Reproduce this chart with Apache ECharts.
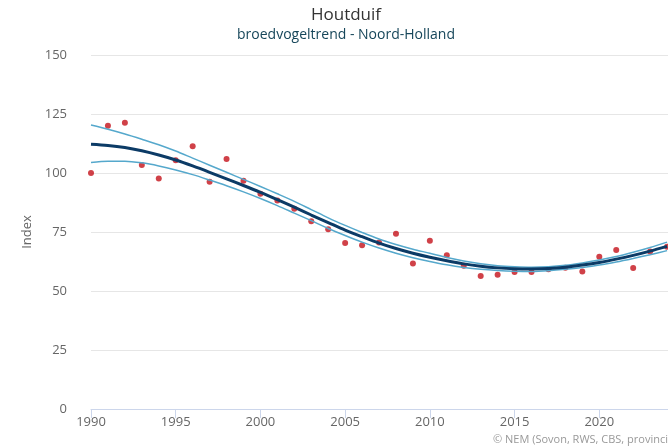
<!DOCTYPE html>
<html>
<head>
<meta charset="utf-8">
<script src="https://cdn.jsdelivr.net/npm/echarts@6/dist/echarts.min.js"></script>
<style>
html,body{margin:0;padding:0;background:#fff;}
#chart{width:668px;height:448px;}
</style>
</head>
<body>
<div id="chart"></div>
<script>
const years = [1990,1991,1992,1993,1994,1995,1996,1997,1998,1999,2000,2001,2002,2003,2004,2005,2006,2007,2008,2009,2010,2011,2012,2013,2014,2015,2016,2017,2018,2019,2020,2021,2022,2023,2024];
const indexValues = [100,120,121.3,103.4,97.7,105.4,111.3,96.3,105.9,96.7,91.2,88.3,84.9,79.6,76.2,70.3,69.4,70.5,74.3,61.7,71.3,65.1,60.7,56.4,56.9,58.1,58.1,59.2,59.9,58.3,64.5,67.4,59.7,66.7,68.8];
const trend = [112.2,111.7,110.8,109.4,107.6,105.5,103,100.3,97.5,94.7,91.8,88.7,85.5,82.2,79,75.8,73,70.3,68,66,64.3,62.8,61.5,60.5,59.8,59.4,59.3,59.5,60.1,61,62.1,63.5,65.1,66.9,68.9];
const upper = [120.3,118.5,116.5,114.3,112,109.3,106.3,103.3,100.3,97.3,94.3,91.2,88,84.5,81,77.8,74.8,72,69.7,67.7,66,64.2,62.7,61.5,60.7,60.3,60.1,60.3,60.9,61.9,63.1,64.6,66.4,68.4,70.7];
const lower = [104.5,105,105,104.3,103,101.3,99.3,97,94.6,92,89.2,86.2,83,79.8,76.5,73.5,70.7,68.2,66,64.1,62.5,61.1,60,59.2,58.7,58.4,58.3,58.6,59.2,60,61,62.3,63.8,65.4,67.1];
const yTicks = [0,25,50,75,100,125,150];
const titleText = 'Houtduif';
const subtitleText = 'broedvogeltrend - Noord-Holland';
const creditText = '© NEM (Sovon, RWS, CBS, provincies)';

const pair = arr => years.map((y,i)=>[y,arr[i]]);
const FONT = '"Open Sans", "Noto Sans", sans-serif';

const chart = echarts.init(document.getElementById('chart'), null, {renderer:'canvas'});
chart.setOption({
  animation:false,
  backgroundColor:'#fff',
  textStyle:{fontFamily:FONT},
  graphic:[
    {type:'text', x:346, y:15, style:{text:titleText, textAlign:'center', textVerticalAlign:'middle', fill:'#333333', font:'17px ' + FONT}},
    {type:'text', x:346, y:35, style:{text:subtitleText, textAlign:'center', textVerticalAlign:'middle', fill:'#16465a', font:'14px ' + FONT}},
    {type:'text', x:493, y:440, style:{text:creditText, textAlign:'left', textVerticalAlign:'middle', fill:'#999999', font:'11px ' + FONT}}
  ],
  grid:{left:91, width:593, top:55, bottom:39, containLabel:false, outerBoundsMode:'none'},
  xAxis:{
    type:'value', min:1990, max:2025, interval:5,
    axisLine:{show:true, lineStyle:{color:'#ccd6eb', width:1}},
    axisTick:{show:true, length:9, lineStyle:{color:'#ccd6eb'}},
    axisLabel:{color:'#666666', fontSize:13, margin:7, showMaxLabel:false, fontFamily:FONT, formatter: v => String(v)},
    splitLine:{show:false}
  },
  yAxis:{
    type:'value', min:yTicks[0], max:yTicks[yTicks.length-1], interval:25,
    name:'Index', nameLocation:'middle', nameGap:57, nameRotate:90,
    nameTextStyle:{color:'#666666', fontSize:13, fontFamily:FONT},
    axisLine:{show:false}, axisTick:{show:false},
    axisLabel:{color:'#666666', fontSize:13, margin:24, fontFamily:FONT},
    splitLine:{lineStyle:{color:'#e6e6e6', width:1}}
  },
  series:[
    {type:'scatter', data:pair(indexValues), symbolSize:6, itemStyle:{color:'#c4121a'}, z:1},
    {type:'line', data:pair(upper), showSymbol:false, smooth:0.3, lineStyle:{color:'#55a8cc', width:1.5}, z:2},
    {type:'line', data:pair(lower), showSymbol:false, smooth:0.3, lineStyle:{color:'#55a8cc', width:1.5}, z:2},
    {type:'line', data:pair(trend), showSymbol:false, smooth:0.3, lineStyle:{color:'#0c3b66', width:3}, z:3}
  ]
});
</script>
</body>
</html>
